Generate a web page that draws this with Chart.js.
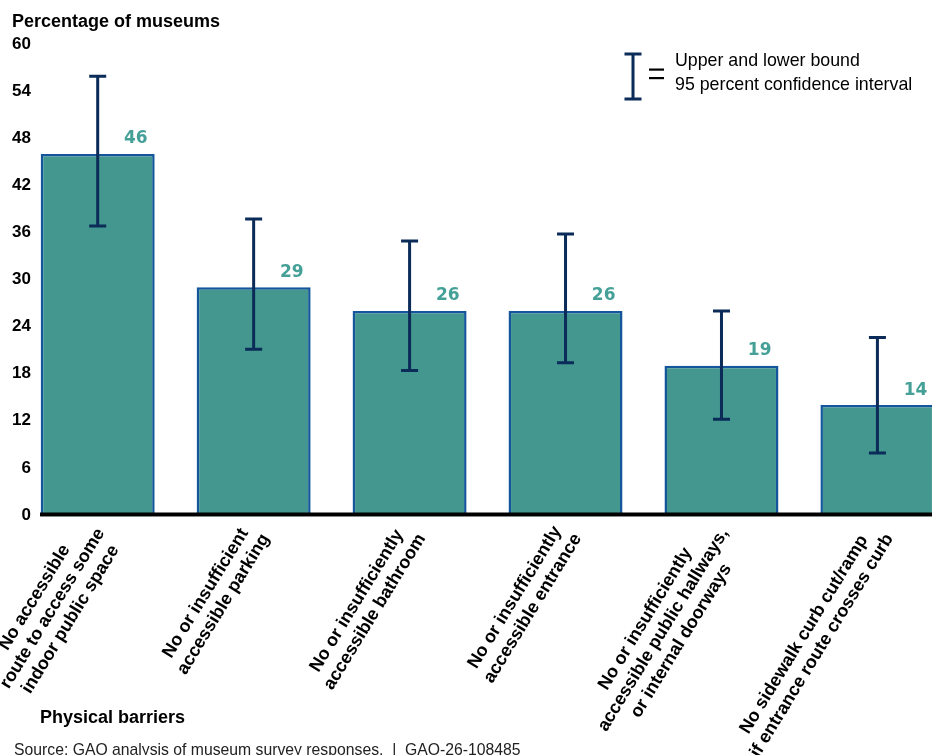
<!DOCTYPE html>
<html>
<head>
<meta charset="utf-8">
<title>Physical barriers reported by museums</title>
<script src="https://cdn.jsdelivr.net/npm/chart.js@4.4.1/dist/chart.umd.min.js"></script>
<style>
  html, body { margin: 0; padding: 0; background: #fff; overflow: hidden; }
  #wrap { position: relative; width: 932px; height: 755px; }
</style>
</head>
<body>
<div id="wrap"><canvas id="barriersChart" width="932" height="755"></canvas></div>
<script>
// Physical barriers, share of museums (percent) and 95% confidence bounds
const barriers = [
  ['No accessible', 'route to access some', 'indoor public space'],
  ['No or insufficient', 'accessible parking'],
  ['No or insufficiently', 'accessible bathroom'],
  ['No or insufficiently', 'accessible entrance'],
  ['No or insufficiently', 'accessible public hallways,', 'or internal doorways'],
  ['No sidewalk curb cut/ramp', 'if entrance route crosses curb']
];
const shares = [46, 29, 26, 26, 19, 14];
const lowerBound = [36.8, 21.1, 18.4, 19.4, 12.2, 7.9];
const upperBound = [55.9, 37.7, 34.9, 35.8, 26.0, 22.6];
const yTicks = [0, 6, 12, 18, 24, 30, 36, 42, 48, 54, 60];

const TEAL = '#43978f';
const BAR_EDGE = '#14559c';
const NAVY = '#0b2b58';
const LABEL_TEAL = '#45a097';
const SANS = '"Liberation Sans", Arial, sans-serif';

Chart.defaults.font.family = SANS;

// ─── ERROR BARS, VALUE LABELS, BASELINE ────────────────
const barExtras = {
  id: 'barExtras',
  afterDatasetsDraw(chart) {
    const { ctx, chartArea } = chart;
    const yScale = chart.scales.y;
    const bars = chart.getDatasetMeta(0).data;
    const y0 = yScale.getPixelForValue(0);

    // thick black zero line
    ctx.save();
    ctx.fillStyle = '#000';
    ctx.fillRect(chartArea.left, y0 - 2.5, chartArea.right - chartArea.left, 3.5);
    ctx.fillStyle = '#888';
    ctx.fillRect(chartArea.left, y0 + 1, chartArea.right - chartArea.left, 1);

    // confidence intervals
    ctx.strokeStyle = NAVY;
    ctx.lineWidth = 3;
    ctx.lineCap = 'butt';
    bars.forEach((bar, i) => {
      const top = yScale.getPixelForValue(upperBound[i]);
      const bottom = yScale.getPixelForValue(lowerBound[i]);
      ctx.beginPath();
      ctx.moveTo(bar.x, top);
      ctx.lineTo(bar.x, bottom);
      ctx.moveTo(bar.x - 8.5, top);
      ctx.lineTo(bar.x + 8.5, top);
      ctx.moveTo(bar.x - 8.5, bottom);
      ctx.lineTo(bar.x + 8.5, bottom);
      ctx.stroke();
    });

    // values above the bars
    ctx.fillStyle = LABEL_TEAL;
    ctx.font = 'bold 17px "DejaVu Sans", sans-serif';
    ctx.textAlign = 'right';
    ctx.textBaseline = 'middle';
    bars.forEach((bar, i) => {
      ctx.fillText(String(shares[i]), Math.min(bar.x + bar.width / 2 - 7, chart.width), bar.y - 15);
    });
    ctx.restore();
  }
};

// ─── ROTATED CATEGORY LABELS, TITLES, KEY ──────────────
const decorations = {
  id: 'decorations',
  afterDraw(chart) {
    const { ctx } = chart;
    const xScale = chart.scales.x;
    const y0 = chart.scales.y.getPixelForValue(0);
    const angle = -58.5 * Math.PI / 180;
    const lineHeight = 21;

    ctx.save();
    ctx.fillStyle = '#000';
    ctx.font = 'bold 18px ' + SANS;
    ctx.textAlign = 'center';
    ctx.textBaseline = 'middle';
    barriers.forEach((lines, i) => {
      const widest = Math.max(...lines.map(l => ctx.measureText(l).width));
      ctx.save();
      ctx.translate(xScale.getPixelForValue(i) + 3, y0 + 15);
      ctx.rotate(angle);
      lines.forEach((line, k) => {
        const dy = (k - (lines.length - 1) / 2) * lineHeight;
        ctx.fillText(line, -widest / 2, dy);
      });
      ctx.restore();
    });

    // axis titles and source
    ctx.textAlign = 'left';
    ctx.textBaseline = 'alphabetic';
    ctx.font = 'bold 18px ' + SANS;
    ctx.fillText('Percentage of museums', 12, 27);
    ctx.fillText('Physical barriers', 40, 723);
    ctx.font = '15.75px ' + SANS;
    ctx.fillStyle = '#222';
    ctx.fillText('Source: GAO analysis of museum survey responses.  |  GAO-26-108485', 14, 755);

    // key: confidence interval symbol
    ctx.strokeStyle = NAVY;
    ctx.lineWidth = 3;
    ctx.beginPath();
    ctx.moveTo(633, 54); ctx.lineTo(633, 99);
    ctx.moveTo(624.5, 54); ctx.lineTo(641.5, 54);
    ctx.moveTo(624.5, 99); ctx.lineTo(641.5, 99);
    ctx.stroke();
    ctx.fillStyle = '#000';
    ctx.fillRect(649, 68.5, 15, 2.2);
    ctx.fillRect(649, 77, 15, 2.2);
    ctx.font = '17.8px ' + SANS;
    ctx.textBaseline = 'middle';
    ctx.fillText('Upper and lower bound', 675, 61);
    ctx.fillText('95 percent confidence interval', 675, 85);
    ctx.restore();
  }
};

new Chart(document.getElementById('barriersChart'), {
  type: 'bar',
  data: {
    datasets: [{
      data: shares.map((v, i) => ({ x: i, y: v })),
      backgroundColor: TEAL,
      borderColor: BAR_EDGE,
      borderWidth: 2.5,
      borderSkipped: 'start',
      categoryPercentage: 1,
      barPercentage: 0.731
    }]
  },
  options: {
    responsive: false,
    animation: false,
    layout: { padding: { top: 44, bottom: 240, left: 0, right: 0 } },
    plugins: {
      legend: { display: false },
      tooltip: { enabled: false }
    },
    scales: {
      x: {
        type: 'linear',
        offset: false,
        min: -0.37,
        max: 5.35,
        afterBuildTicks: scale => {
          scale.ticks = barriers.map((_, i) => ({ value: i }));
        },
        ticks: { display: false },
        grid: { display: false, drawTicks: false, offset: false },
        border: { display: false }
      },
      y: {
        min: 0,
        max: 60,
        afterBuildTicks: scale => {
          scale.ticks = yTicks.map(v => ({ value: v }));
        },
        afterFit: scale => { scale.width = 40; },
        ticks: {
          padding: 9,
          color: '#000',
          font: { size: 17, weight: 'bold' }
        },
        grid: { display: false, drawTicks: false },
        border: { display: false }
      }
    }
  },
  plugins: [barExtras, decorations]
});
</script>
</body>
</html>
